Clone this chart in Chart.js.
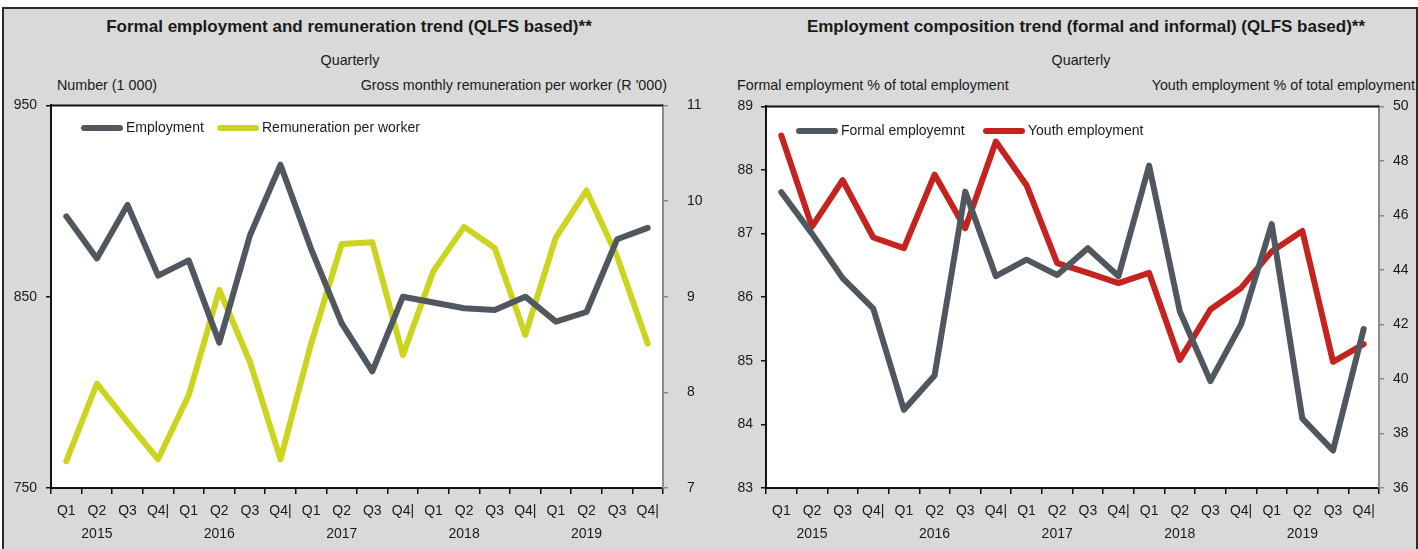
<!DOCTYPE html>
<html>
<head>
<meta charset="utf-8">
<script src="https://cdn.jsdelivr.net/npm/chart.js@4"></script>
<style>
  html, body { margin: 0; padding: 0; background: #fff; }
  body { width: 1418px; height: 549px; position: relative; overflow: hidden;
         font-family: "Liberation Sans", Arial, sans-serif; color: #1a1a1a; }
  #frame { position: absolute; left: 2px; top: 7px; width: 1412px; height: 550px;
           background: #d9d9d9; border: 2px solid #2b2b2b; border-bottom: none; }
  .txt { position: absolute; white-space: nowrap; font-size: 14.3px; line-height: 16px; }
  .ttl { font-weight: bold; font-size: 17px; }
  .c { transform: translate(-50%, -50%); }
  .l { transform: translate(0, -50%); }
  .r { transform: translate(-100%, -50%); }
  canvas { position: absolute; }
</style>
</head>
<body>
<div id="frame"></div>

<div class="txt ttl c" style="left:349px; top:27px;">Formal employment and remuneration trend (QLFS based)**</div>
<div class="txt c" style="left:350px; top:60px;">Quarterly</div>
<div class="txt l" style="left:57px; top:85px;">Number (1 000)</div>
<div class="txt r" style="left:667px; top:85px;">Gross monthly remuneration per worker (R '000)</div>

<div class="txt ttl c" style="left:1086px; top:27px;">Employment composition trend (formal and informal) (QLFS based)**</div>
<div class="txt c" style="left:1081px; top:60px;">Quarterly</div>
<div class="txt l" style="left:737px; top:85px;">Formal employment % of total employment</div>
<div class="txt r" style="left:1415px; top:85px;">Youth employment % of total employment</div>

<canvas id="leftChart" width="708" height="471" style="left:0px; top:78px;"></canvas>
<canvas id="rightChart" width="710" height="460" style="left:708px; top:89px;"></canvas>

<script>
const years = ['2015', '2016', '2017', '2018', '2019'];
const quarters = ['Q1', 'Q2', 'Q3', 'Q4|'];

// left chart: formal employment (1 000) and remuneration per worker (R '000)
const employment = [892, 870, 898, 861, 869, 826, 882, 919, 875, 836, 811, 850, 847, 844, 843, 850, 837, 842, 880, 886];
const remuneration = [7.28, 8.09, 7.69, 7.30, 7.97, 9.07, 8.32, 7.30, 8.51, 9.55, 9.57, 8.39, 9.27, 9.73, 9.51, 8.60, 9.62, 10.11, 9.42, 8.51];

// right chart: formal employment % and youth employment % of total
const formalShare = [87.65, 87.0, 86.30, 85.82, 84.23, 84.77, 87.66, 86.33, 86.59, 86.35, 86.77, 86.33, 88.07, 85.78, 84.68, 85.57, 87.15, 84.09, 83.59, 85.50];
const youthShare = [48.93, 45.59, 47.29, 45.19, 44.80, 47.50, 45.53, 48.71, 47.11, 44.25, 43.89, 43.52, 43.89, 40.70, 42.55, 43.34, 44.68, 45.43, 40.63, 41.28];

const GREY = '#50575f';
const LIME = '#cdd41f';
const RED = '#c4231f';
const FONT = '"Liberation Sans", Arial, sans-serif';

const labels = [];
years.forEach(yr => {
  quarters.forEach((q, i) => {
    labels.push([q, i === 1 ? yr : '']);
  });
});

// white plot area + black top edge
const framePlugin = {
  id: 'plotFrame',
  beforeDraw(chart) {
    const a = chart.chartArea;
    const ctx = chart.ctx;
    ctx.save();
    ctx.fillStyle = '#fff';
    ctx.fillRect(a.left, a.top, a.right - a.left, a.bottom - a.top);
    ctx.restore();
  },
  afterDraw(chart) {
    const a = chart.chartArea;
    const ctx = chart.ctx;
    ctx.save();
    ctx.strokeStyle = '#111';
    ctx.lineWidth = 2;
    ctx.beginPath();
    ctx.moveTo(a.left - 1, a.top);
    ctx.lineTo(a.right, a.top);
    ctx.stroke();
    ctx.restore();
  }
};

// legend drawn inside the plot
const insideLegend = {
  id: 'insideLegend',
  afterDatasetsDraw(chart, args, opts) {
    const ctx = chart.ctx;
    ctx.save();
    ctx.font = '14px ' + FONT;
    ctx.textBaseline = 'middle';
    chart.data.datasets.forEach((ds, i) => {
      const x = opts.xs[i];
      const y = opts.y;
      ctx.strokeStyle = ds.borderColor;
      ctx.lineWidth = 6;
      ctx.lineCap = 'round';
      ctx.beginPath();
      ctx.moveTo(x + 3, y);
      ctx.lineTo(x + 39, y);
      ctx.stroke();
      ctx.fillStyle = '#1a1a1a';
      ctx.fillText(ds.label, x + 45, y);
    });
    ctx.restore();
  }
};

function lineSet(label, data, color, axis) {
  return {
    label: label,
    data: data,
    yAxisID: axis,
    borderColor: color,
    backgroundColor: color,
    borderWidth: 6,
    borderCapStyle: 'round',
    borderJoinStyle: 'round',
    pointRadius: 0,
    tension: 0
  };
}

function makeChart(id, sets, cfg) {
  return new Chart(document.getElementById(id), {
    type: 'line',
    data: { labels: labels, datasets: sets },
    options: {
      responsive: false,
      animation: false,
      layout: { padding: { top: 2, left: 0, right: 0, bottom: 0 } },
      plugins: {
        legend: { display: false },
        tooltip: { enabled: false },
        insideLegend: cfg.legend
      },
      scales: {
        x: {
          offset: true,
          grid: { offset: true, drawOnChartArea: false, drawTicks: true, tickLength: 6, color: '#111', lineWidth: 1.5 },
          border: { color: '#111', width: 2 },
          ticks: { color: '#1a1a1a', padding: 5.5, maxRotation: 0, autoSkip: false,
                   font: { family: FONT, size: 14, lineHeight: 1.65 } },
          afterFit: s => { s.height = 61; }
        },
        y: {
          position: 'left',
          min: cfg.left.min, max: cfg.left.max,
          ticks: { stepSize: cfg.left.step, color: '#1a1a1a', padding: cfg.left.pad,
                   font: { family: FONT, size: 14 } },
          grid: { drawOnChartArea: false, drawTicks: true, tickLength: 5, color: '#111', lineWidth: 1.5 },
          border: { color: '#111', width: 2 },
          afterFit: s => { s.width = cfg.left.width; }
        },
        y1: {
          position: 'right',
          min: cfg.right.min, max: cfg.right.max,
          ticks: { stepSize: cfg.right.step, color: '#1a1a1a', padding: cfg.right.pad,
                   font: { family: FONT, size: 14 } },
          grid: { drawOnChartArea: false, drawTicks: true, tickLength: 5, color: '#8c8c8c', lineWidth: 1.5 },
          border: { color: '#8c8c8c', width: 2 },
          afterFit: s => { s.width = cfg.right.width; }
        }
      }
    },
    plugins: [framePlugin, insideLegend]
  });
}

makeChart('leftChart', [
  lineSet('Employment', employment, GREY, 'y'),
  lineSet('Remuneration per worker', remuneration, LIME, 'y1')
], {
  legend: { xs: [81, 217], y: 50 },
  left: { min: 750, max: 950, step: 100, pad: 9, width: 51 },
  right: { min: 7, max: 11, step: 1, pad: 19, width: 45 }
});

makeChart('rightChart', [
  lineSet('Formal employemnt', formalShare, GREY, 'y'),
  lineSet('Youth employment', youthShare, RED, 'y1')
], {
  legend: { xs: [88, 275], y: 42 },
  left: { min: 83, max: 89, step: 1, pad: 8, width: 58 },
  right: { min: 36, max: 50, step: 2, pad: 9, width: 39 }
});
</script>
</body>
</html>
